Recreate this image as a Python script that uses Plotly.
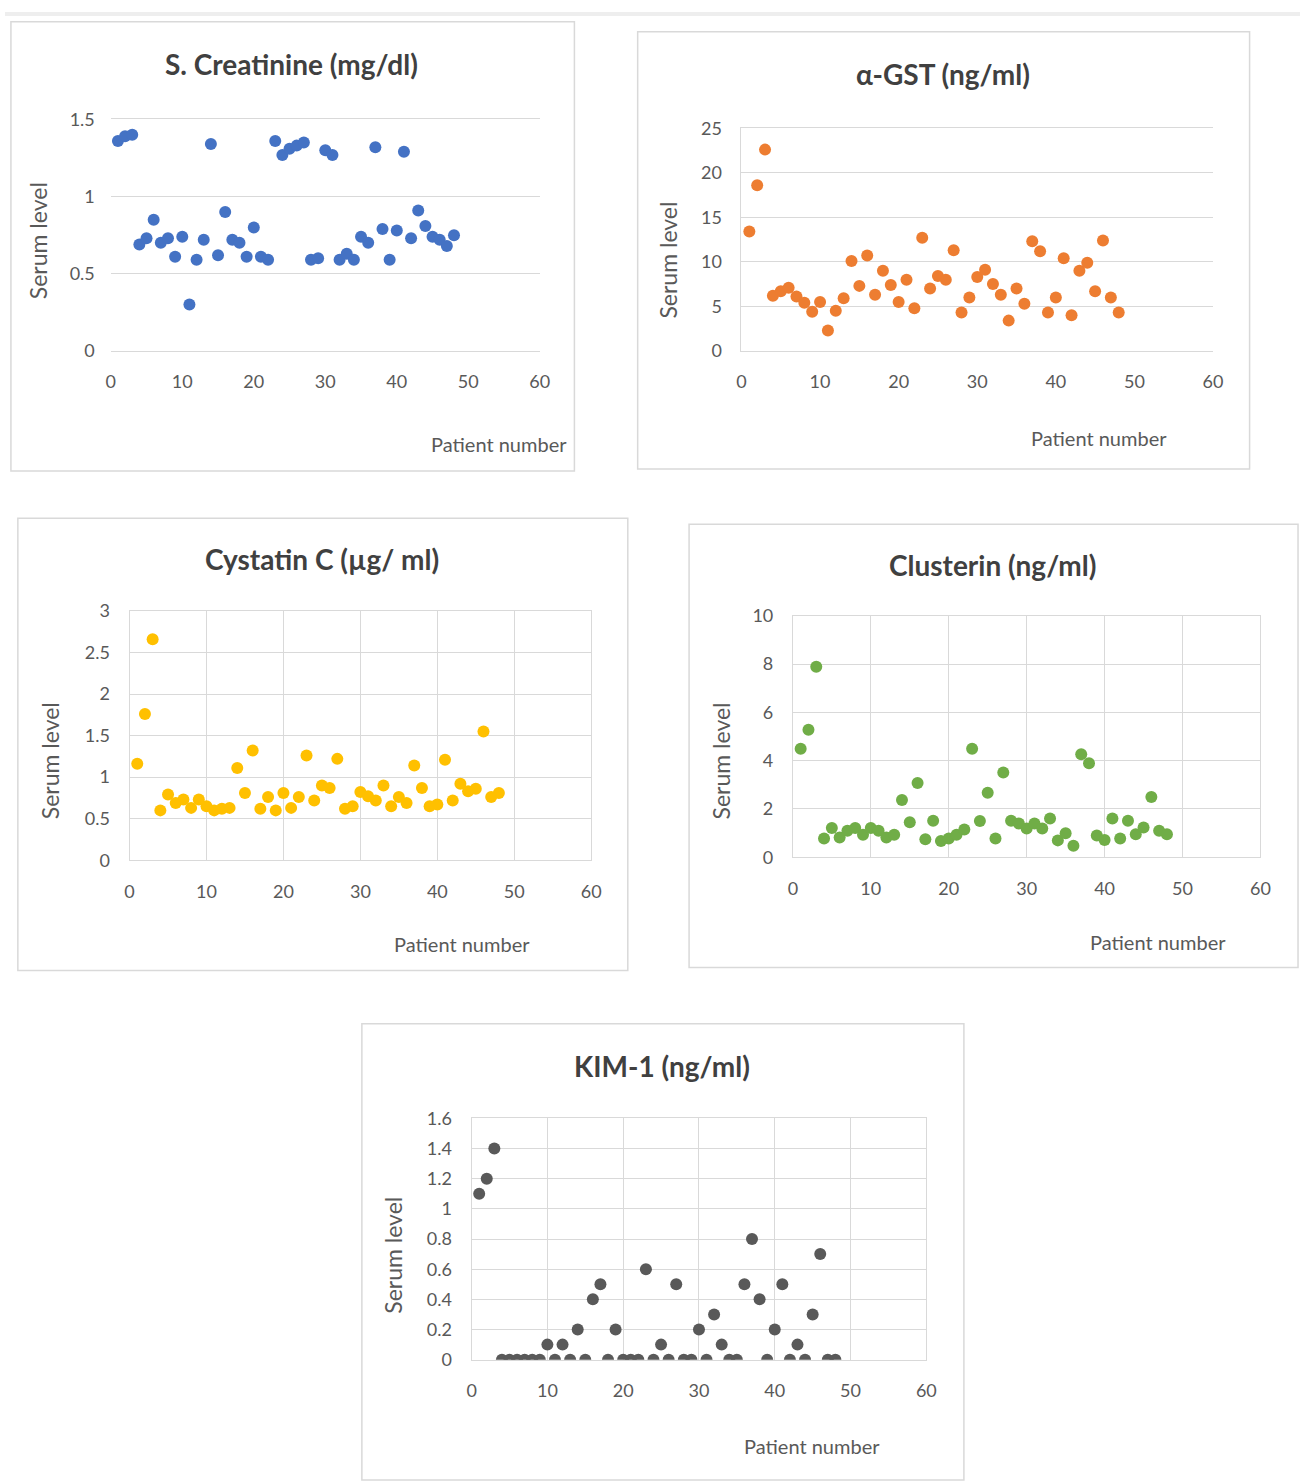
import plotly.graph_objects as go

W, H = 1310, 1483

patients = list(range(1, 49))

creatinine = [1.36, 1.39, 1.40, 0.69, 0.73, 0.85, 0.70, 0.73, 0.61, 0.74,
              0.30, 0.59, 0.72, 1.34, 0.62, 0.90, 0.72, 0.70, 0.61, 0.80,
              0.61, 0.59, 1.36, 1.27, 1.31, 1.33, 1.35, 0.59, 0.60, 1.30,
              1.27, 0.59, 0.63, 0.59, 0.74, 0.70, 1.32, 0.79, 0.59, 0.78,
              1.29, 0.73, 0.91, 0.81, 0.74, 0.72, 0.68, 0.75]

agst = [13.4, 18.6, 22.6, 6.2, 6.7, 7.1, 6.1, 5.4, 4.4, 5.5,
        2.3, 4.5, 5.9, 10.1, 7.3, 10.7, 6.3, 9.0, 7.4, 5.5,
        8.0, 4.8, 12.7, 7.0, 8.4, 8.0, 11.3, 4.3, 6.0, 8.3,
        9.1, 7.5, 6.3, 3.4, 7.0, 5.3, 12.3, 11.2, 4.3, 6.0,
        10.4, 4.0, 9.0, 9.9, 6.7, 12.4, 6.0, 4.3]

cystatin = [1.16, 1.76, 2.66, 0.60, 0.79, 0.69, 0.73, 0.63, 0.73, 0.65,
            0.60, 0.62, 0.63, 1.11, 0.81, 1.32, 0.62, 0.76, 0.60, 0.81,
            0.63, 0.76, 1.26, 0.72, 0.90, 0.87, 1.22, 0.62, 0.65, 0.82,
            0.77, 0.72, 0.90, 0.65, 0.76, 0.69, 1.14, 0.87, 0.65, 0.67,
            1.21, 0.72, 0.92, 0.83, 0.86, 1.55, 0.76, 0.81]

clusterin = [4.50, 5.28, 7.89, 0.78, 1.21, 0.82, 1.10, 1.21, 0.93, 1.21,
             1.10, 0.82, 0.93, 2.37, 1.45, 3.08, 0.75, 1.51, 0.67, 0.78,
             0.93, 1.15, 4.50, 1.50, 2.67, 0.78, 3.51, 1.51, 1.40, 1.19,
             1.40, 1.19, 1.61, 0.70, 1.00, 0.48, 4.27, 3.90, 0.90, 0.72,
             1.61, 0.78, 1.51, 0.95, 1.23, 2.50, 1.10, 0.95]

kim1 = [1.1, 1.2, 1.4, 0, 0, 0, 0, 0, 0, 0.1,
        0, 0.1, 0, 0.2, 0, 0.4, 0.5, 0, 0.2, 0,
        0, 0, 0.6, 0, 0.1, 0, 0.5, 0, 0, 0.2,
        0, 0.3, 0.1, 0, 0, 0.5, 0.8, 0.4, 0, 0.2,
        0.5, 0, 0.1, 0, 0.3, 0.7, 0, 0]

titles = ["S. Creatinine (mg/dl)", "α-GST (ng/ml)", "Cystatin C (µg/ ml)",
          "Clusterin (ng/ml)", "KIM-1 (ng/ml)"]
series = [creatinine, agst, cystatin, clusterin, kim1]
colors = ["#4472C4", "#ED7D31", "#FFC000", "#70AD47", "#595959"]
y_ranges = [(0, 1.5, 0.5), (0, 25, 5), (0, 3, 0.5), (0, 10, 2), (0, 1.6, 0.2)]

# layout geometry in pixels
plot_px = [  # x0, x1, y_top, y_bottom
    (107, 541, 109, 344),
    (745, 1222, 118, 344),
    (126, 593, 608, 861),
    (797, 1270, 613, 858),
    (472, 932, 1123, 1368),
]
box_px = [
    (6, 10, 576, 466),
    (640, 20, 1259, 464),
    (13, 514, 630, 973),
    (692, 520, 1308, 970),
    (361, 1027, 970, 1490),
]
title_px = [(290, 53), (949, 63), (321, 555), (999, 561), (665, 1070)]
ylab_px = [(33, 232), (671, 252), (45, 760), (724, 760), (393, 1262)]
xlab_px = [(500, 438), (1107, 432), (462, 946), (1166, 944), (816, 1456)]
grid_style = ["h", "hl", "full", "full", "full"]

def px(x):
    return x / W

def py(y):
    return 1 - y / H

FONT = "Lato"
TXT = "#595959"
GRID = "#d9d9d9"

fig = go.Figure()
layout = dict(
    width=W, height=H, margin=dict(l=0, r=0, t=0, b=0),
    paper_bgcolor="white", plot_bgcolor="white", showlegend=False,
    font=dict(family=FONT, color=TXT),
)
shapes = []
annotations = []

shapes.append(dict(type="rect", xref="paper", yref="paper",
                   x0=0, x1=1, y0=py(4), y1=1,
                   fillcolor="#eeeeee", line=dict(width=0), layer="below"))

for i in range(5):
    n = "" if i == 0 else str(i + 1)
    xa, ya = "x" + n, "y" + n
    fig.add_trace(go.Scatter(
        x=patients, y=series[i], mode="markers",
        marker=dict(color=colors[i], size=12, line=dict(width=0)),
        xaxis=xa, yaxis=ya, hoverinfo="x+y"))
    x0, x1, yt, yb = plot_px[i]
    ymin, ymax, dt = y_ranges[i]
    style = grid_style[i]
    layout["xaxis" + n] = dict(
        domain=[px(x0), px(x1)], range=[0, 60], dtick=10, tick0=0,
        anchor=ya, showgrid=(style == "full"), gridcolor=GRID, gridwidth=1,
        zeroline=False, showline=True, linecolor=GRID, linewidth=1,
        mirror=True, ticks="", ticklabelstandoff=15,
        tickfont=dict(family=FONT, size=18, color=TXT), fixedrange=True)
    layout["yaxis" + n] = dict(
        domain=[py(yb), py(yt)], range=[ymin, ymax], dtick=dt, tick0=0,
        anchor=xa, showgrid=True, gridcolor=GRID, gridwidth=1,
        zeroline=False, showline=(style != "h"), linecolor=GRID, linewidth=1,
        mirror=(style == "full"), ticks="", ticklabelstandoff=15,
        tickfont=dict(family=FONT, size=18, color=TXT), fixedrange=True)
    bx0, by0, bx1, by1 = box_px[i]
    shapes.append(dict(type="rect", xref="paper", yref="paper",
                       x0=px(bx0), x1=px(bx1), y0=py(by1), y1=py(by0),
                       line=dict(color="#d9d9d9", width=1.5),
                       fillcolor="rgba(0,0,0,0)", layer="below"))
    tx, ty = title_px[i]
    annotations.append(dict(text=titles[i], xref="paper", yref="paper",
                            x=px(tx), y=py(ty), showarrow=False,
                            xanchor="center", yanchor="middle",
                            font=dict(family=FONT, size=28, color="#404040",
                                      weight=700)))
    lx, ly = ylab_px[i]
    annotations.append(dict(text="Serum level", xref="paper", yref="paper",
                            x=px(lx), y=py(ly), showarrow=False, textangle=-90,
                            xanchor="center", yanchor="middle",
                            font=dict(family=FONT, size=23, color=TXT)))
    qx, qy = xlab_px[i]
    annotations.append(dict(text="Patient number", xref="paper", yref="paper",
                            x=px(qx), y=py(qy), showarrow=False,
                            xanchor="center", yanchor="middle",
                            font=dict(family=FONT, size=20, color=TXT)))

layout["shapes"] = shapes
layout["annotations"] = annotations
fig.update_layout(**layout)

post = ("var d=document.getElementById('{plot_id}');"
        "d.style.position='fixed';d.style.top='0px';d.style.left='0px';"
        "document.documentElement.style.margin='0';"
        "document.body.style.margin='0';"
        "document.documentElement.style.overflow='hidden';"
        "document.body.style.overflow='hidden';")
fig.write_html("out.html", post_script=post, config={"displayModeBar": False})
